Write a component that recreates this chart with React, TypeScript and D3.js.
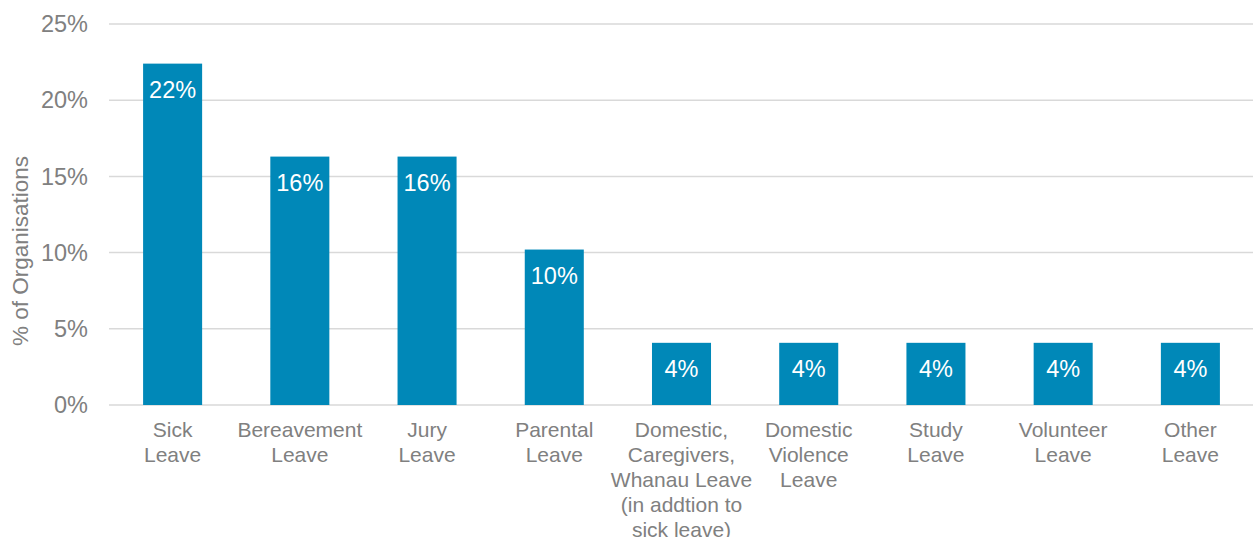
import React from "react";
import * as d3 from "d3";

const categories: string[][] = [
  ["Sick", "Leave"],
  ["Bereavement", "Leave"],
  ["Jury", "Leave"],
  ["Parental", "Leave"],
  ["Domestic,", "Caregivers,", "Whanau Leave", "(in addtion to", "sick leave)"],
  ["Domestic", "Violence", "Leave"],
  ["Study", "Leave"],
  ["Volunteer", "Leave"],
  ["Other", "Leave"],
];
const values: number[] = [0.224, 0.163, 0.163, 0.102, 0.0408, 0.0408, 0.0408, 0.0408, 0.0408];
const yTicks: number[] = [0, 0.05, 0.1, 0.15, 0.2, 0.25];

const W = 1253;
const H = 537;
const left = 109;
const right = 1254;
const top = 24;
const bottom = 405;
const FONT = "'Liberation Sans', Arial, sans-serif";
const TEXT = "#808080";
const BAR = "#0088B8";

export default function App() {
  const keys = categories.map((_, i) => String(i));
  const x = d3.scaleBand<string>().domain(keys).range([left, right]).paddingInner(0.536).paddingOuter(0.268);
  const y = d3.scaleLinear().domain([0, 0.25]).range([bottom, top]);
  const pct = d3.format(".0%");

  return (
    <svg width={W} height={H} style={{ position: "absolute", left: 0, top: 0, background: "#fff" }}>
      <g>
        {yTicks.map((t) => (
          <g key={t}>
            <line x1={left} x2={W} y1={y(t)} y2={y(t)} stroke="#d9d9d9" strokeWidth={1.5} />
            <text x={88} y={y(t)} dy="0.35em" textAnchor="end" fontFamily={FONT} fontSize={23.5} fill={TEXT}>
              {pct(t)}
            </text>
          </g>
        ))}
      </g>
      <g>
        {values.map((v, i) => (
          <g key={i}>
            <rect x={x(String(i))} y={y(v)} width={x.bandwidth()} height={y(0) - y(v)} fill={BAR} />
            <text
              x={(x(String(i)) as number) + x.bandwidth() / 2}
              y={y(v) + 34}
              textAnchor="middle"
              fontFamily={FONT}
              fontSize={23.5}
              fill="#fff"
            >
              {pct(Math.floor(v * 100) / 100)}
            </text>
          </g>
        ))}
      </g>
      <g>
        {categories.map((lines, i) => (
          <text
            key={i}
            x={(x(String(i)) as number) + x.bandwidth() / 2}
            y={437}
            textAnchor="middle"
            fontFamily={FONT}
            fontSize={21}
            fill={TEXT}
          >
            {lines.map((l, j) => (
              <tspan key={j} x={(x(String(i)) as number) + x.bandwidth() / 2} dy={j === 0 ? 0 : 25}>
                {l}
              </tspan>
            ))}
          </text>
        ))}
      </g>
      <text
        transform={`translate(28,251) rotate(-90)`}
        textAnchor="middle"
        fontFamily={FONT}
        fontSize={22.5}
        fill={TEXT}
      >
        % of Organisations
      </text>
    </svg>
  );
}
